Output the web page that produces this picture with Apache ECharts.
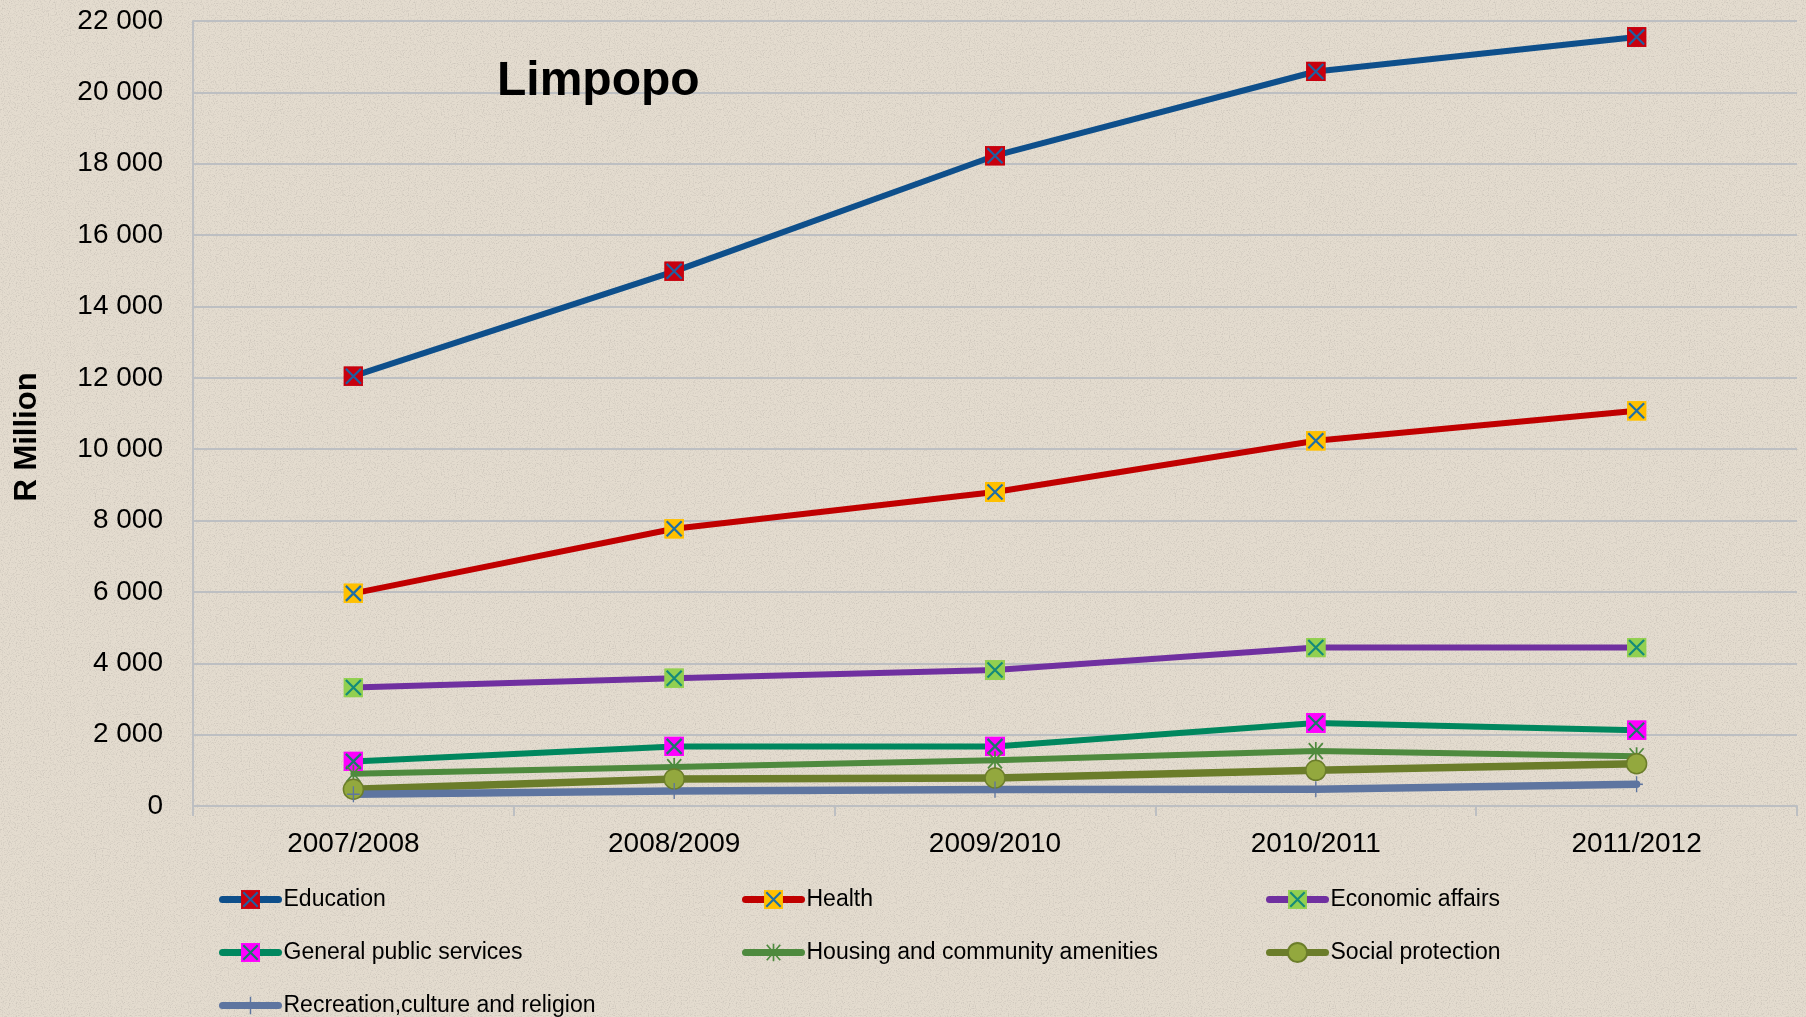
<!DOCTYPE html>
<html>
<head>
<meta charset="utf-8">
<title>Limpopo</title>
<script src="https://cdn.jsdelivr.net/npm/echarts@6/dist/echarts.min.js"></script>
<style>
  html, body { margin: 0; padding: 0; width: 1806px; height: 1017px; overflow: hidden; }
  body {
    background-color: #E4DCCF;
    background-image: url("data:image/svg+xml;utf8,<svg xmlns='http://www.w3.org/2000/svg' width='360' height='360'><filter id='n'><feTurbulence type='fractalNoise' baseFrequency='0.85' numOctaves='2' stitchTiles='stitch'/><feColorMatrix values='0 0 0 0 0.52  0 0 0 0 0.48  0 0 0 0 0.43  0 0 0 1.7 -0.8'/></filter><rect width='100%' height='100%' filter='url(%23n)'/></svg>");
  }
  #chart { width: 1806px; height: 1017px; }
</style>
</head>
<body>
<div id="chart"></div>
<script>
// Provincial expenditure by function, Limpopo (R million)
const categories = ['2007/2008', '2008/2009', '2009/2010', '2010/2011', '2011/2012'];
const education = [12045, 14985, 18225, 20585, 21550];
const health = [5960, 7770, 8800, 10235, 11075];
const economicAffairs = [3320, 3580, 3810, 4440, 4440];
const generalPublicServices = [1250, 1670, 1670, 2325, 2125];
const housingAmenities = [905, 1090, 1280, 1540, 1395];
const socialProtection = [470, 760, 785, 1000, 1185];
const recreationCulture = [330, 420, 460, 470, 610];
const yTicks = [0, 2000, 4000, 6000, 8000, 10000, 12000, 14000, 16000, 18000, 20000, 22000];

const FONT = '"Liberation Sans", Arial, sans-serif';

function svgSymbol(body) {
  const svg = "<svg xmlns='http://www.w3.org/2000/svg' width='40' height='40' viewBox='0 0 40 40'>" + body + "</svg>";
  return 'image://data:image/svg+xml;charset=utf-8,' + encodeURIComponent(svg);
}
function squareX(fill, cross) {
  return svgSymbol(
    "<rect x='1' y='1' width='38' height='38' fill='" + fill + "' stroke='" + fill + "' stroke-width='2'/>" +
    "<path d='M5 5 L35 35 M35 5 L5 35' stroke='" + cross + "' stroke-width='4.5' fill='none'/>"
  );
}
const starSymbol = svgSymbol(
  "<path d='M20 2 L20 38 M6 4 L34 36 M34 4 L6 36' stroke='#4E8A3E' stroke-width='3.5' fill='none'/>"
);
const plusSymbol = svgSymbol(
  "<path d='M20 2 L20 38 M6 20 L34 20' stroke='#5E75A0' stroke-width='3' fill='none'/>"
);

function lineSeries(name, data, color, width, symbol, size, extra) {
  return Object.assign({
    name: name,
    type: 'line',
    data: data,
    symbol: symbol,
    symbolSize: size,
    showSymbol: true,
    showAllSymbol: true,
    animation: false,
    lineStyle: { color: color, width: width, cap: 'round', join: 'round' },
    itemStyle: { color: color },
    emphasis: { disabled: true }
  }, extra || {});
}

const series = [
  lineSeries('Education', education, '#0E4F8B', 6, squareX('#C8000E', '#1F5FA0'), 20),
  lineSeries('Health', health, '#C00000', 6, squareX('#FFC000', '#1F6FA5'), 20),
  lineSeries('Economic affairs', economicAffairs, '#7030A0', 6, squareX('#92D050', '#158A7A'), 20),
  lineSeries('General public services', generalPublicServices, '#00875E', 6, squareX('#FF00FF', '#187A6A'), 20),
  lineSeries('Housing and community amenities', housingAmenities, '#4E8A3E', 6, starSymbol, 20),
  lineSeries('Social protection', socialProtection, '#6B7D2A', 7.5, 'circle', 20, {
    itemStyle: { color: '#93A83E', borderColor: '#6B7D2A', borderWidth: 1.5 }
  }),
  lineSeries('Recreation,culture and religion', recreationCulture, '#5E75A0', 7.5, plusSymbol, 18)
];

// Legend laid out in three fixed columns
const legendCols = [219, 742, 1266];
const legendRows = [888, 941, 994];
const legends = series.map(function (s, i) {
  return {
    data: [s.name],
    left: legendCols[i % 3],
    top: legendRows[Math.floor(i / 3)],
    padding: 0,
    itemWidth: 56,
    itemHeight: 24,
    selectedMode: false,
    lineStyle: { width: 7, cap: 'round' },
    textStyle: { fontFamily: FONT, fontSize: 23, color: '#000' }
  };
});

const chart = echarts.init(document.getElementById('chart'), null, { renderer: 'canvas' });
chart.setOption({
  backgroundColor: 'transparent',
  animation: false,
  title: {
    text: 'Limpopo',
    left: 497,
    top: 58,
    padding: 0,
    textStyle: { fontFamily: FONT, fontSize: 48, fontWeight: 'bold', color: '#000' }
  },
  graphic: [{
    type: 'text',
    x: 27,
    y: 437,
    rotation: Math.PI / 2,
    style: {
      text: 'R Million',
      fontFamily: FONT,
      fontSize: 31,
      fontWeight: 'bold',
      fill: '#000',
      align: 'center',
      verticalAlign: 'middle'
    }
  }],
  legend: legends,
  grid: { left: 193, right: 9, top: 21, bottom: 211, containLabel: false },
  xAxis: {
    type: 'category',
    data: categories,
    boundaryGap: true,
    axisLine: { show: true, lineStyle: { color: '#BDBFC2', width: 2 } },
    axisTick: { show: true, length: 10, lineStyle: { color: '#BDBFC2', width: 2 } },
    axisLabel: { fontFamily: FONT, fontSize: 28, color: '#000', margin: 24 },
    splitLine: { show: false }
  },
  yAxis: {
    type: 'value',
    min: yTicks[0],
    max: yTicks[yTicks.length - 1],
    interval: yTicks[1] - yTicks[0],
    axisLine: { show: true, lineStyle: { color: '#BDBFC2', width: 2 } },
    axisTick: { show: false },
    axisLabel: {
      fontFamily: FONT,
      fontSize: 28,
      color: '#000',
      margin: 30,
      formatter: function (v) {
        return String(v).replace(/\B(?=(\d{3})+(?!\d))/g, ' ');
      }
    },
    splitLine: { show: true, lineStyle: { color: '#BDBFC2', width: 2 } }
  },
  series: series
});
</script>
</body>
</html>
